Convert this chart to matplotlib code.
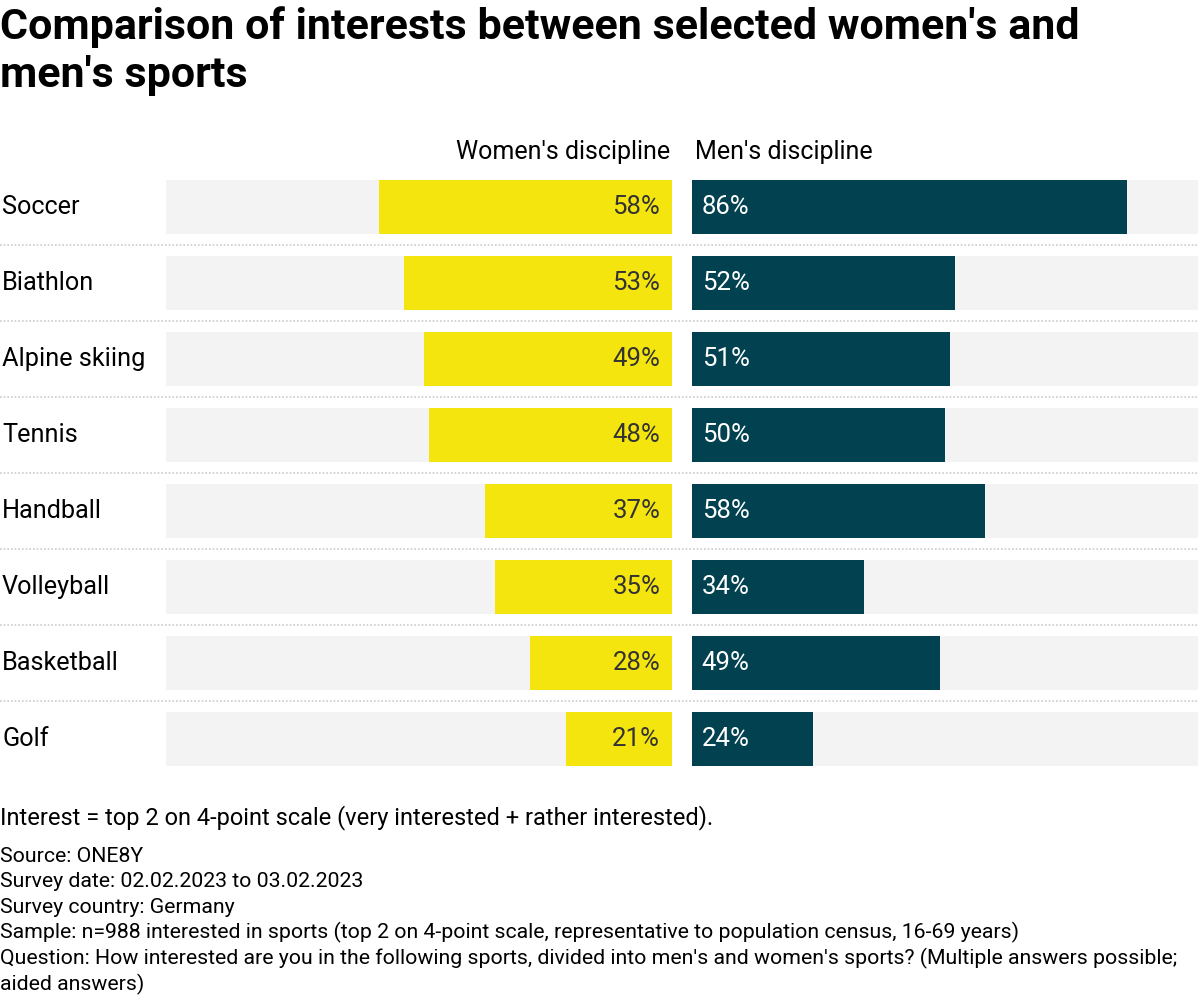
import numpy as np
import matplotlib.pyplot as plt

# data
sports = ["Soccer", "Biathlon", "Alpine skiing", "Tennis", "Handball",
          "Volleyball", "Basketball", "Golf"]
women = [58, 53, 49, 48, 37, 35, 28, 21]
men = [86, 52, 51, 50, 58, 34, 49, 24]

title = "Comparison of interests between selected women's and\nmen's sports"
note = "Interest = top 2 on 4-point scale (very interested + rather interested)."
footer = [
    "Source: ONE8Y",
    "Survey date: 02.02.2023 to 03.02.2023",
    "Survey country: Germany",
    "Sample: n=988 interested in sports (top 2 on 4-point scale, representative to population census, 16-69 years)",
    "Question: How interested are you in the following sports, divided into men's and women's sports? (Multiple answers possible;",
    "aided answers)",
]

YELLOW = "#f5e50f"
TEAL = "#02414f"
GREY = "#f3f3f3"

plt.rcParams['font.family'] = ['Roboto', 'DejaVu Sans']

W, H = 1200, 1000
fig = plt.figure(figsize=(12, 10), dpi=100)


def fx(x):
    return x / W


def fy(y):
    return 1 - y / H


top, bottom = 169, 777
n = len(sports)
y = np.arange(n)
bh = 54 / 76

# full-width axes for the dotted separators
bg = fig.add_axes([0, fy(bottom), 1, (bottom - top) / H])
bg.set_xlim(0, 1)
bg.set_ylim(n - 0.5, -0.5)
for i in range(n - 1):
    bg.axhline(i + 0.5, xmin=0, xmax=1198 / 1200, color="#cccccc",
               lw=1.2, ls=(0, (1, 1.2)))
bg.axis("off")

axl = fig.add_axes([fx(166), fy(bottom), 506 / W, (bottom - top) / H])
axr = fig.add_axes([fx(692), fy(bottom), 506 / W, (bottom - top) / H])

axl.barh(y, [100] * n, height=bh, color=GREY)
axl.barh(y, women, height=bh, color=YELLOW)
axl.set_xlim(100, 0)
axr.barh(y, [100] * n, height=bh, color=GREY)
axr.barh(y, men, height=bh, color=TEAL)
axr.set_xlim(0, 100)

for ax in (axl, axr):
    ax.set_ylim(n - 0.5, -0.5)
    ax.set_facecolor("none")
    ax.axis("off")

for i in range(n):
    axl.annotate(f"{women[i]}%", (0, i), xytext=(-8.5, 0), textcoords="offset points",
                 ha="right", va="center", fontsize=18.5, color="#333333")
    axr.annotate(f"{men[i]}%", (0, i), xytext=(7, 0), textcoords="offset points",
                 ha="left", va="center", fontsize=18.5, color="white")
    bg.text(fx(2), i, sports[i], ha="left", va="center", fontsize=18.2,
            color="black")

fig.text(fx(670), fy(152), "Women's discipline", ha="right", va="center",
         fontsize=18)
fig.text(fx(695), fy(152), "Men's discipline", ha="left", va="center",
         fontsize=18)

fig.text(0, fy(6), title, ha="left", va="top", fontsize=31, fontweight="bold",
         linespacing=1.22)

fig.text(0, fy(818), note, ha="left", va="center", fontsize=17)
for k, line in enumerate(footer):
    fig.text(0, fy(856 + k * 25.6), line, ha="left", va="center", fontsize=15.3)

fig.savefig("out.png", dpi=100)
